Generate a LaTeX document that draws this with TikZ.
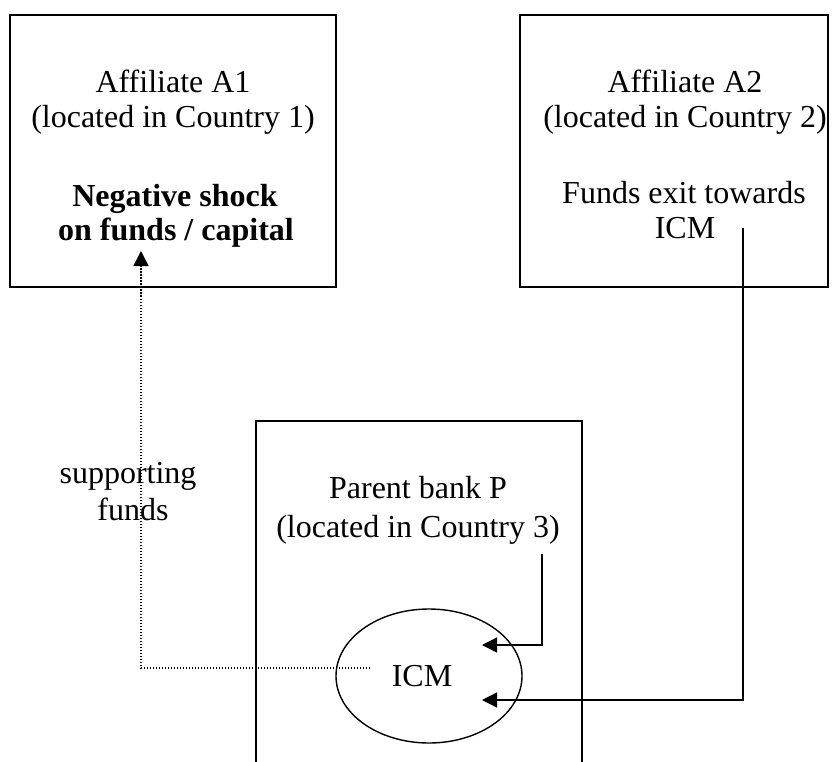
\documentclass[tikz,border=0pt]{standalone}
\usepackage{fontspec}
\setmainfont{Liberation Serif}
\usetikzlibrary{arrows.meta}
\begin{document}
\begin{tikzpicture}[x=1pt,y=-1pt,
  boxline/.style={line width=1.5pt},
  txt/.style={anchor=base,inner sep=0pt,font=\fontsize{32}{36}\selectfont},
  conn/.style={line width=1.4pt,-{Triangle[length=15pt,width=15pt]}},
  dotconn/.style={line width=1.5pt,dash pattern=on 1.5pt off 1.5pt,-{Triangle[length=15pt,width=15pt]}}]
\useasboundingbox (0,0) rectangle (837,762);
% boxes
\draw[boxline] (10,15) rectangle (336,287);
\draw[boxline] (520,15) rectangle (828,287);
\draw[boxline] (256,762) -- (256,421) -- (582,421) -- (582,762);
% A1 text
\node[txt] (a1l1) at (173,93) {Affiliate A1};
\node[txt] (a1l2) at (173,128) {(located in Country 1)};
\node[txt,font=\fontsize{32}{36}\selectfont\bfseries] (a1l3) at (175,206) {Negative shock};
\node[txt,font=\fontsize{32}{36}\selectfont\bfseries] (a1l4) at (176,240) {on funds / capital};
% A2 text
\node[txt] (a2l1) at (685,93) {Affiliate A2};
\node[txt] (a2l2) at (685,128) {(located in Country 2)};
\node[txt] (a2l3) at (684,203) {Funds exit towards};
\node[txt] (a2l4) at (685,238) {ICM};
% Parent text
\node[txt] (pl1) at (418,498) {Parent bank P};
\node[txt] (pl2) at (418,537) {(located in Country 3)};
% ICM ellipse
\draw[line width=1.4pt] (429,676) ellipse [x radius=93, y radius=67];
\node[txt] (icm) at (422,686) {ICM};
% supporting funds
\node[txt] (sf1) at (128,483) {supporting};
\node[txt] (sf2) at (133,520) {funds};
% connector coordinates
\coordinate (dotstart) at (370,668);
\coordinate (dottip) at (141,251);
\coordinate (pstart) at (542,554);
\coordinate (ptip) at (482,645);
\coordinate (a2start) at (743,228);
\coordinate (a2tip) at (482,700);
% connectors
\draw[dotconn] (dotstart) -| (dottip);
\draw[conn] (pstart) |- (ptip);
\draw[conn] (a2start) |- (a2tip);
\end{tikzpicture}
\end{document}
